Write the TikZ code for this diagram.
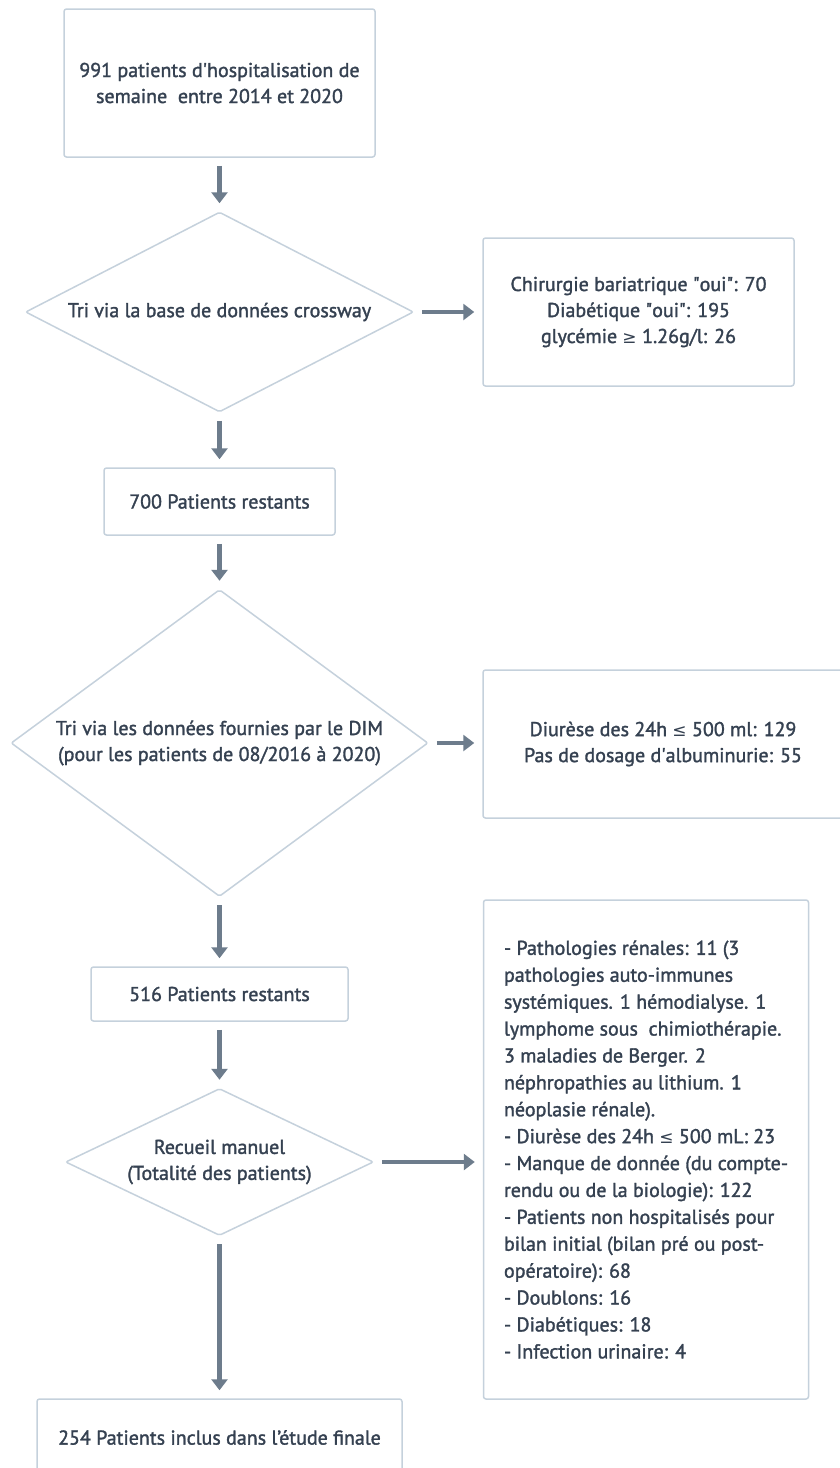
\documentclass[tikz,border=0pt]{standalone}
\usepackage{fontspec}
\setmainfont{PT Sans}[FakeBold=1.6]
\newfontfamily\symf{DejaVu Sans}
\usetikzlibrary{shapes.geometric,arrows.meta}
\definecolor{bordc}{HTML}{C5D1DC}
\definecolor{txtc}{HTML}{354151}
\definecolor{arrc}{HTML}{6D7C8C}
\newcommand{\mygeq}{{\symf\fontsize{17}{20}\selectfont ≥}}
\newcommand{\myleq}{{\symf\fontsize{17}{20}\selectfont ≤}}
\tikzset{
  base/.style={draw=bordc, line width=1.5pt, text=txtc, font=\fontsize{20}{26}\selectfont, align=center, inner sep=0pt},
  box/.style={base, rectangle, rounded corners=2.5pt},
  dia/.style={base, diamond, rounded corners=2pt},
  conn/.style={draw=arrc, line width=4.5pt, -{Triangle[width=16pt,length=11pt]}, shorten <=8pt, shorten >=8pt},
}
\begin{document}
\begin{tikzpicture}[x=1pt,y=-1pt]
\clip (0,0) rectangle (840,1468);
\fill[white] (0,0) rectangle (840,1468);
\node[box, minimum width=311pt, minimum height=148pt] (n1) at (219.5,83) {991 patients d\textquotesingle hospitalisation de\\semaine~ entre 2014 et 2020};
\node[dia, aspect=1.94, minimum width=388pt, minimum height=200pt] (d1) at (219.5,312) {Tri via la base de données crossway};
\node[box, minimum width=311pt, minimum height=148pt] (r1) at (638.5,312) {Chirurgie bariatrique \textquotedbl oui\textquotedbl: 70\\Diabétique \textquotedbl oui\textquotedbl: 195\\glycémie \mygeq\ 1.26g/l: 26};
\node[box, minimum width=231pt, minimum height=67pt] (n2) at (219.5,501.5) {700 Patients restants};
\node[dia, aspect=1.36, minimum width=417pt, minimum height=307pt] (d2) at (219.5,743) {Tri via les données fournies par le DIM\\(pour les patients de 08/2016 à 2020)};
\node[box, minimum width=360pt, minimum height=148pt] (r2) at (663,744) {Diurèse des 24h \myleq\ 500 ml: 129\\Pas de dosage d\textquotesingle albuminurie: 55};
\node[box, minimum width=257pt, minimum height=54pt] (n3) at (219.5,994) {516 Patients restants};
\node[dia, aspect=2.1, minimum width=308pt, minimum height=147pt] (d3) at (219.5,1162) {Recueil manuel\\(Totalité des patients)};
\node[box, minimum width=325pt, minimum height=499pt, align=left, font=\fontsize{20}{26.9}\selectfont] (r3) at (646,1149.5) {- Pathologies rénales: 11 (3\\pathologies auto-immunes\\systémiques. 1 hémodialyse. 1\\lymphome sous~ chimiothérapie.\\3 maladies de Berger. 2\\néphropathies au lithium. 1\\néoplasie rénale).\\- Diurèse des 24h \myleq\ 500 mL: 23\\- Manque de donnée (du compte-\\rendu ou de la biologie): 122\\- Patients non hospitalisés pour\\bilan initial (bilan pré ou post-\\opératoire): 68\\- Doublons: 16\\- Diabétiques: 18\\- Infection urinaire: 4};
\node[box, minimum width=365pt, minimum height=77pt] (n4) at (219.5,1437.5) {254 Patients inclus dans l’étude finale};
\draw[conn] (n1.south) -- (d1.north);
\draw[conn] (d1.south) -- (n2.north);
\draw[conn] (n2.south) -- (d2.north);
\draw[conn] (d2.south) -- (n3.north);
\draw[conn] (n3.south) -- (d3.north);
\draw[conn] (d3.south) -- (n4.north);
\draw[conn] (d1.east) -- (d1.east -| r1.west);
\draw[conn] (d2.east) -- (d2.east -| r2.west);
\draw[conn] (d3.east) -- (d3.east -| r3.west);
\end{tikzpicture}
\end{document}
